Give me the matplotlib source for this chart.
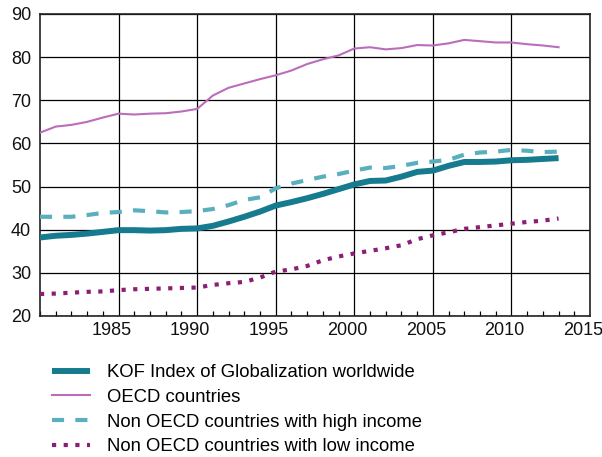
import matplotlib
matplotlib.use("Agg")
import matplotlib.pyplot as plt
from matplotlib.ticker import MultipleLocator
from matplotlib.transforms import ScaledTranslation

plt.rcParams['font.family'] = ['Liberation Sans', 'DejaVu Sans']

years = list(range(1980, 2014))
kof_world = [38.2, 38.6, 38.8, 39.1, 39.5, 39.9, 39.9, 39.8, 39.9, 40.2,
             40.3, 40.9, 41.9, 43.0, 44.2, 45.6, 46.4, 47.3, 48.3, 49.4,
             50.5, 51.3, 51.4, 52.3, 53.4, 53.7, 54.8, 55.7, 55.7, 55.8,
             56.1, 56.2, 56.4, 56.6]
oecd = [62.5, 63.9, 64.3, 65.0, 66.0, 66.9, 66.7, 66.9, 67.0, 67.4,
        68.0, 71.1, 72.9, 73.9, 74.9, 75.8, 76.9, 78.4, 79.5, 80.4,
        82.0, 82.3, 81.8, 82.1, 82.8, 82.7, 83.2, 84.0, 83.7, 83.4,
        83.4, 83.0, 82.7, 82.3]
non_oecd_high = [43.0, 43.0, 43.0, 43.4, 43.9, 44.1, 44.5, 44.3, 44.0, 44.1,
                 44.3, 44.8, 45.7, 46.9, 47.5, 49.6, 50.7, 51.5, 52.3, 52.9,
                 53.7, 54.4, 54.3, 54.8, 55.5, 55.8, 56.2, 57.4, 57.9, 58.1,
                 58.5, 58.3, 58.0, 58.1]
non_oecd_low = [25.1, 25.2, 25.4, 25.6, 25.7, 26.0, 26.2, 26.3, 26.4, 26.5,
                26.6, 27.2, 27.6, 27.9, 28.9, 30.3, 30.8, 31.6, 32.9, 33.8,
                34.5, 35.1, 35.7, 36.4, 37.8, 38.7, 39.4, 40.2, 40.6, 41.0,
                41.4, 41.8, 42.1, 42.6]

xticks = [1985, 1990, 1995, 2000, 2005, 2010, 2015]
yticks = [20, 30, 40, 50, 60, 70, 80, 90]

labels = ["KOF Index of Globalization worldwide",
          "OECD countries",
          "Non OECD countries with high income",
          "Non OECD countries with low income"]

fig = plt.figure(figsize=(6.02, 4.57), dpi=100)
ax = fig.add_axes([40/602, 1-316/457, 550/602, 302/457])

l1, = ax.plot(years, kof_world, color='#167b8f', lw=4.3, solid_capstyle='butt', zorder=5)
l2, = ax.plot(years, oecd, color='#bb6dbb', lw=1.5, zorder=4)
l3, = ax.plot(years, non_oecd_high, color='#5aafbe', lw=3.0, dashes=(2.9, 2.7),
              dash_capstyle='butt', zorder=4)
l4, = ax.plot(years, non_oecd_low, color='#8b1f73', lw=3.0, dashes=(1.0, 1.8),
              dash_capstyle='butt', zorder=4)

ax.set_xlim(1980, 2015)
ax.set_ylim(20, 90)
ax.set_xticks(xticks)
ax.set_yticks(yticks)
ax.xaxis.set_minor_locator(MultipleLocator(1))
ax.grid(True, which='major', color='black', lw=0.9)
ax.set_axisbelow(True)
ax.tick_params(axis='both', which='major', length=0, labelsize=13, colors='#111111')
ax.tick_params(axis='x', which='major', pad=4.5)
ax.tick_params(axis='y', which='major', pad=6.5)
ax.tick_params(axis='x', which='minor', direction='in', length=3.5, width=0.9, color='black')
for s in ax.spines.values():
    s.set_color('#222222')
    s.set_linewidth(1.2)

offset = ScaledTranslation(-7/100, 0, fig.dpi_scale_trans)
for lab in ax.get_xticklabels():
    lab.set_transform(lab.get_transform() + offset)

fig.legend([l1, l2, l3, l4], labels, loc='upper left',
           bbox_to_anchor=(52/602, 1-364/457), frameon=False,
           fontsize=13.3, handlelength=2.05, handletextpad=0.95,
           labelspacing=0.42, borderaxespad=0, borderpad=0)

fig.savefig("out.png", dpi=100)
